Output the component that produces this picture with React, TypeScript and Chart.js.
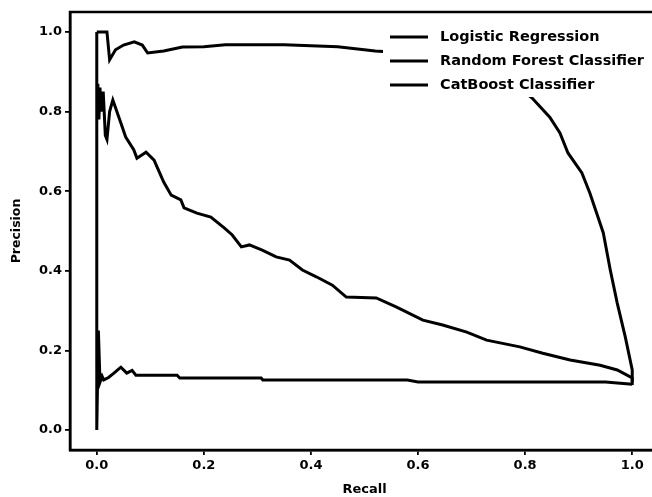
import React, { useEffect, useRef } from "react";
import { Chart, registerables } from "chart.js";

Chart.register(...registerables);

const seriesLabels = ["Logistic Regression", "Random Forest Classifier", "CatBoost Classifier"];

const lrRecall = [0, 0, 0.003, 0.006, 0.01, 0.013, 0.022, 0.032, 0.045, 0.056, 0.066, 0.073, 0.15, 0.155, 0.307, 0.31, 0.58, 0.6, 0.95, 1.0];
const lrPrecision = [1.0, 0.0, 0.25, 0.12, 0.135, 0.126, 0.132, 0.143, 0.158, 0.143, 0.15, 0.138, 0.138, 0.131, 0.131, 0.126, 0.126, 0.121, 0.121, 0.115];

const rfRecall = [0.002, 0.004, 0.006, 0.008, 0.012, 0.016, 0.019, 0.024, 0.03, 0.045, 0.054, 0.069, 0.075, 0.092, 0.107, 0.125, 0.139, 0.157, 0.163, 0.187, 0.213, 0.238, 0.253, 0.27, 0.285, 0.309, 0.335, 0.36, 0.384, 0.41, 0.44, 0.466, 0.522, 0.56, 0.609, 0.646, 0.691, 0.728, 0.79, 0.833, 0.884, 0.94, 0.972, 1.0, 1.0];
const rfPrecision = [0.87, 0.78, 0.86, 0.8, 0.85, 0.74, 0.73, 0.8, 0.829, 0.771, 0.736, 0.704, 0.683, 0.698, 0.678, 0.623, 0.59, 0.578, 0.558, 0.545, 0.535, 0.508, 0.49, 0.46, 0.465, 0.452, 0.435, 0.427, 0.402, 0.385, 0.364, 0.334, 0.332, 0.309, 0.276, 0.264, 0.246, 0.226, 0.209, 0.193, 0.176, 0.163, 0.151, 0.131, 0.12];

const cbRecall = [0, 0.019, 0.024, 0.035, 0.05, 0.07, 0.085, 0.095, 0.125, 0.16, 0.2, 0.24, 0.35, 0.45, 0.52, 0.6, 0.7, 0.77, 0.813, 0.846, 0.865, 0.88, 0.906, 0.921, 0.936, 0.946, 0.959, 0.972, 0.987, 1.0, 1.0];
const cbPrecision = [1.0, 1.0, 0.93, 0.955, 0.967, 0.975, 0.967, 0.947, 0.952, 0.962, 0.963, 0.968, 0.968, 0.963, 0.952, 0.945, 0.92, 0.88, 0.834, 0.786, 0.746, 0.696, 0.646, 0.595, 0.535, 0.495, 0.402, 0.319, 0.234, 0.151, 0.113];

const tickValues = [0, 0.2, 0.4, 0.6, 0.8, 1.0];

const FONT = "'DejaVu Sans', sans-serif";

const toPoints = (xs: number[], ys: number[]) => xs.map((x, i) => ({ x, y: ys[i] }));

const framePlugin = {
  id: "frameAndLegend",
  afterDatasetsDraw(chart: any) {
    const { ctx, chartArea } = chart;
    ctx.save();
    const boxLeft = 383;
    const boxTop = 22;
    ctx.fillStyle = "#ffffff";
    ctx.fillRect(boxLeft, boxTop, chartArea.right - boxLeft, 75);
    ctx.font = `bold 14.5px ${FONT}`;
    ctx.textBaseline = "middle";
    ctx.fillStyle = "#000";
    ctx.strokeStyle = "#000";
    ctx.lineWidth = 2.8;
    chart.data.datasets.forEach((ds: any, i: number) => {
      const y = 37 + i * 24;
      ctx.beginPath();
      ctx.moveTo(390, y);
      ctx.lineTo(428, y);
      ctx.stroke();
      ctx.fillText(ds.label, 440, y);
    });
    ctx.lineWidth = 2.5;
    ctx.strokeRect(chartArea.left, chartArea.top, chartArea.right - chartArea.left, chartArea.bottom - chartArea.top);
    ctx.restore();
  },
};

export default function App() {
  const ref = useRef<HTMLCanvasElement | null>(null);
  useEffect(() => {
    if (!ref.current) return;
    const mk = (label: string, xs: number[], ys: number[]) => ({
      label,
      data: toPoints(xs, ys),
      showLine: true,
      borderColor: "#000",
      backgroundColor: "#000",
      borderWidth: 3,
      pointRadius: 0,
      tension: 0,
    });
    const tickFont = { family: FONT, size: 13, weight: "bold" as const };
    const chart = new Chart(ref.current, {
      type: "scatter",
      data: {
        datasets: [
          mk(seriesLabels[0], lrRecall, lrPrecision),
          mk(seriesLabels[1], rfRecall, rfPrecision),
          mk(seriesLabels[2], cbRecall, cbPrecision),
        ],
      },
      options: {
        responsive: false,
        animation: false,
        layout: { padding: { left: 0, right: 21, top: 12, bottom: 0 } },
        plugins: { legend: { display: false }, tooltip: { enabled: false } },
        scales: {
          x: {
            type: "linear",
            min: -0.05,
            max: 1.05,
            afterBuildTicks: (s: any) => {
              s.ticks = tickValues.map((v) => ({ value: v }));
            },
            afterFit: (s: any) => {
              s.height = 47;
            },
            grid: { drawOnChartArea: false, drawTicks: true, tickLength: 5, color: "#000", lineWidth: 1.8 },
            border: { display: true, color: "#000", width: 2.5 },
            ticks: {
              color: "#000",
              font: tickFont,
              padding: 3,
              maxRotation: 0,
              callback: (v: any) => Number(v).toFixed(1),
            },
            title: {
              display: true,
              text: "Recall",
              color: "#000",
              font: { family: FONT, size: 13, weight: "bold" },
              padding: { top: 0, bottom: 0 },
            },
          },
          y: {
            type: "linear",
            min: -0.05,
            max: 1.05,
            afterBuildTicks: (s: any) => {
              s.ticks = tickValues.map((v) => ({ value: v }));
            },
            afterFit: (s: any) => {
              s.width = 70;
            },
            grid: { drawOnChartArea: false, drawTicks: true, tickLength: 5, color: "#000", lineWidth: 1.8 },
            border: { display: true, color: "#000", width: 2.5 },
            ticks: {
              color: "#000",
              font: tickFont,
              padding: 3,
              callback: (v: any) => Number(v).toFixed(1),
            },
            title: {
              display: true,
              text: "Precision",
              color: "#000",
              font: { family: FONT, size: 12.5, weight: "bold" },
              padding: { top: 9, bottom: 0 },
            },
          },
        },
      },
      plugins: [framePlugin],
    });
    return () => chart.destroy();
  }, []);
  return (
    <div style={{ position: "fixed", left: 0, top: 0, width: 652, height: 497, overflow: "hidden", background: "#fff" }}>
      <canvas ref={ref} width={680} height={497} style={{ width: 680, height: 497, display: "block" }} />
    </div>
  );
}
